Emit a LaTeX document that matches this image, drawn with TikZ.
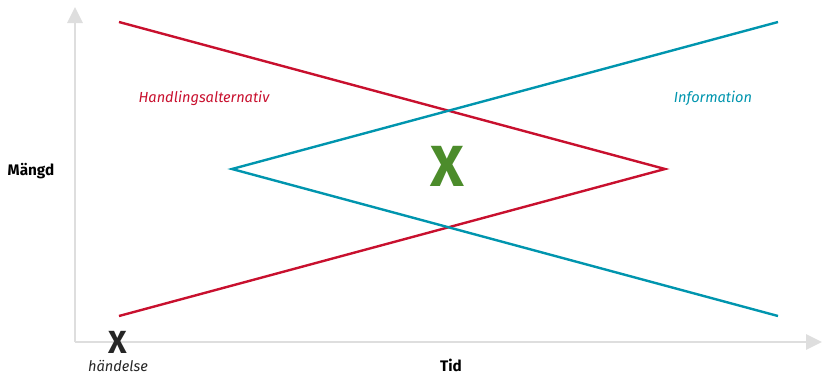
\documentclass[tikz,border=0pt]{standalone}
\usepackage{fontspec}
\setmainfont{Fira Sans}
\usetikzlibrary{arrows.meta}
\definecolor{axisgray}{HTML}{DEDEDE}
\definecolor{redl}{HTML}{C8102E}
\definecolor{teall}{HTML}{0095AE}
\definecolor{greenx}{HTML}{4C8C2B}
\begin{document}
\begin{tikzpicture}[x=1pt,y=-1pt,
  axisline/.style={draw=axisgray,line width=2.8pt,-{Triangle[length=16pt,width=15pt]}},
  redline/.style={draw=redl,line width=2.4pt},
  tealline/.style={draw=teall,line width=2.4pt},
  lbl/.style={inner sep=0pt,anchor=center}]
\useasboundingbox (0,0) rectangle (823,375);
\coordinate (o) at (75,342);
\coordinate (ytop) at (75,7);
\coordinate (xend) at (822,342);
\draw[axisline] (o) -- (ytop);
\draw[axisline] (o) -- (xend);
\coordinate (r1) at (119,22);
\coordinate (r2) at (665,169);
\coordinate (r3) at (119,316);
\coordinate (t1) at (778,22);
\coordinate (t2) at (232,169);
\coordinate (t3) at (778,316);
\draw[redline,line join=miter] (r1) -- (r2) -- (r3);
\draw[tealline,line join=miter] (t1) -- (t2) -- (t3);
\node[lbl,text=redl,font=\itshape\fontsize{14.6}{16}\selectfont] (ha) at (204,98) {Handlingsalternativ};
\node[lbl,text=teall,font=\itshape\fontsize{14.6}{16}\selectfont] (info) at (713,98) {Information};
\node[lbl,font=\bfseries\fontsize{15.3}{17}\selectfont] (mangd) at (31,171) {Mängd};
\node[lbl,font=\bfseries\fontsize{15.3}{17}\selectfont] (tid) at (451,365) {Tid};
\node[lbl,text=greenx,font=\bfseries\fontsize{58}{62}\selectfont] (bigx) at (447,166) {X};
\node[lbl,text=black!85,font=\bfseries\fontsize{32}{35}\selectfont] (smallx) at (118,342) {X};
\node[lbl,text=black!85,font=\itshape\fontsize{14.6}{16}\selectfont] (hand) at (118,366) {händelse};
\end{tikzpicture}
\end{document}
